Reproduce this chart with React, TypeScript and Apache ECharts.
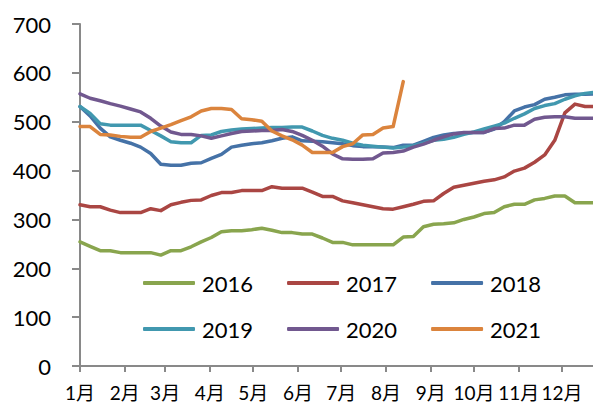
import React, { useEffect, useRef } from "react";
import * as echarts from "echarts";

const monthLabels = ["1月", "2月", "3月", "4月", "5月", "6月", "7月", "8月", "9月", "10月", "11月", "12月"];
const monthStartDays = [0, 31, 59, 90, 120, 151, 181, 212, 243, 273, 304, 334];
const yTicks = [0, 100, 200, 300, 400, 500, 600, 700];

const s2016 = [254, 245, 236, 236, 232, 232, 232, 232, 227, 236, 236, 244, 254, 263, 275, 277, 277, 279, 282, 278, 273, 273, 270, 270, 262, 253, 253, 248, 248, 248, 248, 248, 264, 265, 285, 290, 291, 293, 300, 305, 312, 314, 326, 331, 331, 340, 343, 348, 348, 334, 334, 334];
const s2017 = [330, 326, 326, 319, 314, 314, 314, 322, 318, 330, 335, 339, 340, 349, 355, 355, 359, 359, 359, 367, 364, 364, 364, 356, 347, 347, 338, 334, 330, 326, 322, 321, 326, 331, 337, 338, 353, 366, 370, 374, 378, 381, 387, 399, 405, 417, 432, 462, 518, 536, 531, 531];
const s2018 = [531, 512, 487, 469, 462, 456, 448, 435, 413, 411, 411, 415, 416, 425, 433, 448, 452, 455, 457, 461, 466, 469, 461, 460, 459, 457, 455, 451, 449, 449, 448, 447, 452, 452, 460, 468, 473, 476, 477, 478, 478, 485, 500, 522, 530, 535, 546, 550, 555, 556, 556, 557];
const s2019 = [531, 517, 496, 493, 493, 493, 493, 482, 471, 459, 457, 457, 472, 473, 480, 483, 485, 486, 487, 488, 488, 489, 489, 481, 472, 466, 462, 456, 452, 450, 448, 446, 448, 451, 456, 462, 464, 468, 474, 479, 485, 491, 497, 507, 516, 527, 533, 537, 546, 553, 558, 560];
const s2020 = [557, 548, 543, 537, 532, 526, 520, 507, 491, 479, 474, 474, 471, 466, 471, 476, 480, 481, 482, 482, 484, 480, 472, 462, 450, 434, 424, 423, 423, 424, 436, 437, 440, 448, 454, 462, 469, 475, 478, 478, 478, 486, 487, 493, 493, 505, 509, 510, 510, 507, 507, 507];
const s2021 = [490, 490, 474, 473, 470, 468, 468, 480, 487, 494, 502, 510, 522, 527, 527, 525, 506, 504, 501, 481, 471, 463, 452, 437, 437, 437, 449, 455, 473, 474, 487, 490, 582];

const seriesNames = ["2016", "2017", "2018", "2019", "2020", "2021"];
const seriesValues = [s2016, s2017, s2018, s2019, s2020, s2021];
const colors = ["#89A54E", "#AA4643", "#4572A7", "#4198AF", "#71588F", "#DB843D"];

const FONT = "Lato, 'Noto Sans CJK SC', sans-serif";

export default function App() {
  const ref = useRef<HTMLDivElement>(null);
  useEffect(() => {
    if (!ref.current) return;
    const chart = echarts.init(ref.current, null, { renderer: "svg" });
    const legendCommon = {
      orient: "horizontal",
      left: 138,
      itemWidth: 52,
      itemHeight: 4,
      itemGap: 34,
      icon: "roundRect",
      textStyle: { fontSize: 22, color: "#000", fontFamily: FONT, padding: [0, 0, 0, 2] },
    };
    chart.setOption({
      animation: false,
      color: colors,
      textStyle: { fontFamily: FONT },
      grid: { left: 80, right: 0, top: 24, bottom: 40 },
      legend: [
        { ...legendCommon, top: 267, data: seriesNames.slice(0, 3) },
        { ...legendCommon, top: 313, data: seriesNames.slice(3, 6) },
      ],
      xAxis: {
        type: "value",
        min: 0,
        max: 355.5,
        axisLine: { show: true, lineStyle: { color: "#898989", width: 2 } },
        axisTick: { show: true, length: 6, lineStyle: { color: "#898989", width: 2 }, customValues: monthStartDays },
        axisLabel: {
          customValues: monthStartDays,
          fontSize: 19,
          color: "#000",
          fontFamily: FONT,
          margin: 17,
          formatter: (v: number) => {
            const i = monthStartDays.indexOf(Math.round(v));
            return i >= 0 ? monthLabels[i] : "";
          },
        },
        splitLine: { show: false },
      },
      yAxis: {
        type: "value",
        min: yTicks[0],
        max: yTicks[yTicks.length - 1],
        interval: 100,
        axisLine: { show: true, lineStyle: { color: "#898989", width: 2 } },
        axisTick: { show: true, length: 8, lineStyle: { color: "#898989", width: 2 } },
        axisLabel: { fontSize: 22, color: "#000", fontFamily: FONT, margin: 29 },
        splitLine: { show: false },
      },
      series: seriesNames.map((name, si) => ({
        name,
        type: "line",
        showSymbol: false,
        symbol: "none",
        lineStyle: { width: 3.5, color: colors[si], cap: "round", join: "round" },
        itemStyle: { color: colors[si] },
        data: seriesValues[si].map((v, k) => [k * 7, v]),
        z: 2 + si,
      })),
    });
    return () => chart.dispose();
  }, []);
  return (
    <div
      ref={ref}
      style={{ position: "fixed", left: 0, top: 0, width: 593, height: 406, background: "#fff" }}
    />
  );
}
